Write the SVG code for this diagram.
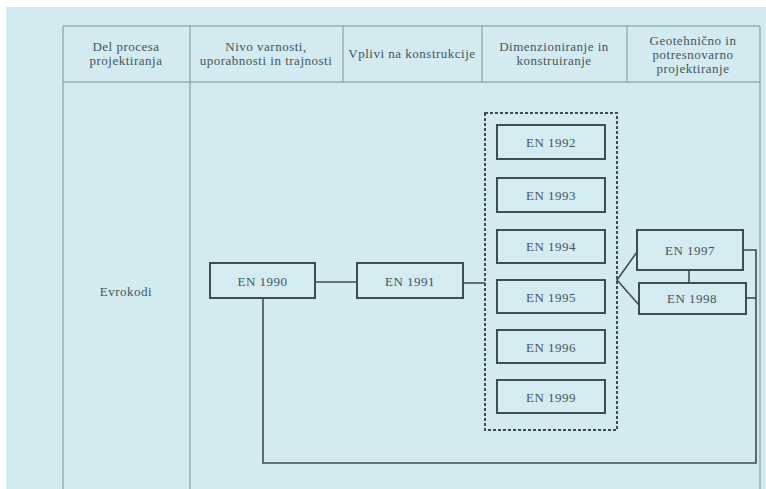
<svg xmlns="http://www.w3.org/2000/svg" width="766" height="489" viewBox="0 0 766 489">
<style>
.tl{stroke:#7f9096;stroke-width:1;fill:none}
.t{font-family:"Liberation Serif","DejaVu Serif",serif;font-size:13px;letter-spacing:0.5px;fill:#46555b;text-anchor:middle}
.b{fill:#d4ebf1;stroke:#3f4d52;stroke-width:2}
.c{stroke:#3f4d52;stroke-width:1.6;fill:none}
</style>
<rect x="0" y="0" width="766" height="489" fill="#ffffff"/>
<rect x="6" y="7" width="760" height="482" fill="#d2eaf0"/>
<g id="table">
<line class="tl" x1="63" y1="26" x2="760" y2="26"/>
<line class="tl" x1="63" y1="82" x2="760" y2="82"/>
<line class="tl" x1="63" y1="26" x2="63" y2="489"/>
<line class="tl" x1="190" y1="26" x2="190" y2="489"/>
<line class="tl" x1="343" y1="26" x2="343" y2="82"/>
<line class="tl" x1="482" y1="26" x2="482" y2="82"/>
<line class="tl" x1="627" y1="26" x2="627" y2="82"/>
<line class="tl" x1="760" y1="26" x2="760" y2="489"/>
<text class="t" x="126" y="51">Del procesa</text>
<text class="t" x="126" y="65">projektiranja</text>
<text class="t" x="266" y="51">Nivo varnosti,</text>
<text class="t" x="266" y="65">uporabnosti in trajnosti</text>
<text class="t" x="412" y="58">Vplivi na konstrukcije</text>
<text class="t" x="554" y="51">Dimenzioniranje in</text>
<text class="t" x="554" y="65">konstruiranje</text>
<text class="t" x="693" y="45">Geotehnično in</text>
<text class="t" x="693" y="59">potresnovarno</text>
<text class="t" x="693" y="73">projektiranje</text>
<text class="t" x="126" y="296">Evrokodi</text>
</g>
<g id="connectors">
<line class="c" x1="315" y1="282" x2="357" y2="282"/>
<line class="c" x1="463" y1="283" x2="485" y2="283"/>
<polyline class="c" points="637,252 617,280 639,305"/>
<line class="c" x1="689" y1="270" x2="689" y2="283"/>
<polyline class="c" points="743,250 756,250 756,463 263,463 263,298"/>
<line class="c" x1="746" y1="298" x2="756" y2="298"/>
</g>
<g id="group-dim">
<rect x="485" y="113" width="132" height="317" fill="none" stroke="#3f4d52" stroke-width="2" stroke-dasharray="3,2"/>
</g>
<g id="en1990"><rect class="b" x="210" y="263" width="105" height="35" stroke-width="2.6"/><text class="t" x="262.5" y="286">EN 1990</text></g>
<g id="en1991"><rect class="b" x="357" y="263" width="106" height="35"/><text class="t" x="410" y="286">EN 1991</text></g>
<g id="en1992"><rect class="b" x="497" y="125" width="108" height="34"/><text class="t" x="551" y="147">EN 1992</text></g>
<g id="en1993"><rect class="b" x="497" y="178" width="108" height="34"/><text class="t" x="551" y="200">EN 1993</text></g>
<g id="en1994"><rect class="b" x="497" y="230" width="108" height="33"/><text class="t" x="551" y="251">EN 1994</text></g>
<g id="en1995"><rect class="b" x="497" y="280" width="108" height="33"/><text class="t" x="551" y="302">EN 1995</text></g>
<g id="en1996"><rect class="b" x="497" y="330" width="108" height="33"/><text class="t" x="551" y="352">EN 1996</text></g>
<g id="en1999"><rect class="b" x="497" y="380" width="108" height="33"/><text class="t" x="551" y="402">EN 1999</text></g>
<g id="en1997"><rect class="b" x="637" y="230" width="106" height="40"/><text class="t" x="690" y="255">EN 1997</text></g>
<g id="en1998"><rect class="b" x="639" y="283" width="107" height="31"/><text class="t" x="692" y="303">EN 1998</text></g>
</svg>
